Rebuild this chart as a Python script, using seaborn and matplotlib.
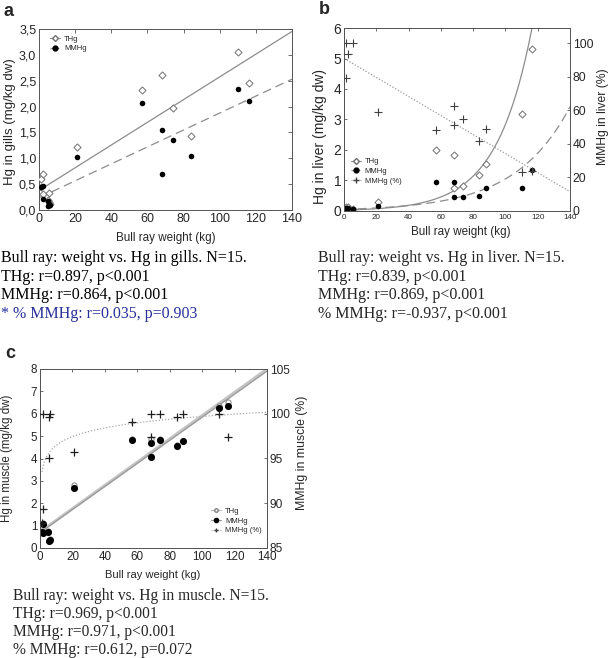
import numpy as np
import seaborn as sns
import matplotlib.pyplot as plt
from matplotlib.lines import Line2D

# ---------------- data ----------------
# (a) gills
gill_thg_kg = [0.9, 1.3, 2.0, 2.4, 5.0, 5.4, 5.5, 6.0, 21, 57, 68, 74, 84, 110, 116]
gill_thg = [0.45, 0.59, 0.31, 0.69, 0.20, 0.32, 0.15, 0.12, 1.22, 2.33, 2.62, 1.97, 1.44, 3.06, 2.46]
gill_mmhg_kg = [0.9, 2.0, 2.0, 5.0, 5.5, 6.0, 5.0, 21, 57, 68, 68, 74, 84, 110, 116]
gill_mmhg = [0.44, 0.47, 0.22, 0.18, 0.12, 0.10, 0.07, 1.03, 2.06, 1.55, 0.70, 1.35, 1.04, 2.34, 2.11]
gill_ytick_labels = ["0,0", "0,5", "1,0", "1,5", "2,0", "2,5", "3,0", "3,5"]

# (b) liver
liver_kg = [1.2, 2.7, 5.8, 21.3, 57, 68.2, 68.2, 73.9, 83.9, 88, 110.1, 116.3]
liver_thg = [0.12, 0.13, 0.07, 0.31, 2.00, 1.85, 0.75, 0.82, 1.17, 1.55, 3.18, 5.30]
liver_mmhg = [0.10, 0.11, 0.05, 0.17, 0.95, 0.94, 0.46, 0.46, 0.50, 0.75, 0.75, 1.33]
liver_pct_kg = [1.2, 5.8, 2.7, 1.2, 21.3, 57, 68.2, 68.2, 73.9, 83.9, 88, 110.1, 116.3]
liver_pct = [100, 100, 93.4, 79.3, 59.0, 48.5, 62.6, 51.1, 55.0, 41.9, 48.9, 23.1, 24.0]
# exponential fits y = a * exp(b * kg) as drawn in the original
liver_thg_fit = [0.030, 0.0455]
liver_mmhg_fit = [0.055, 0.0295]

# (c) muscle
muscle_kg = [1.2, 1.6, 2.0, 5.1, 5.8, 6.2, 21.2, 56.9, 68.3, 68.3, 74.0, 84.3, 88.0, 110.4, 116.2]
muscle_thg = [0.75, 0.70, 1.12, 0.75, 0.33, 0.40, 2.80, 4.87, 4.85, 4.12, 4.87, 4.62, 4.80, 6.35, 6.52]
muscle_mmhg = [0.70, 0.65, 1.07, 0.70, 0.30, 0.36, 2.67, 4.83, 4.71, 4.08, 4.83, 4.57, 4.77, 6.27, 6.36]
muscle_pct_kg = [1.0, 1.6, 1.6, 5.7, 5.7, 6.2, 21.0, 56.9, 68.3, 68.3, 74.0, 84.3, 88.0, 110.4, 116.2]
muscle_pct = [87.8, 89.4, 100, 95.0, 99.6, 100, 95.7, 99.1, 100, 97.4, 100, 99.6, 100, 100, 97.4]

captions_a = ["Bull ray: weight vs. Hg in gills. N=15.", "THg: r=0.897, p<0.001",
              "MMHg: r=0.864, p<0.001", "* % MMHg: r=0.035, p=0.903"]
captions_b = ["Bull ray: weight vs. Hg in liver. N=15.", "THg: r=0.839, p<0.001",
              "MMHg: r=0.869, p<0.001", "% MMHg: r=-0.937, p<0.001"]
captions_c = ["Bull ray: weight vs. Hg in muscle. N=15.", "THg: r=0.969, p<0.001",
              "MMHg: r=0.971, p<0.001", "% MMHg: r=0.612, p=0.072"]

# ---------------- figure ----------------
sns.set_style("white")
plt.rcParams["font.family"] = ["Liberation Sans", "DejaVu Sans"]

W, H = 610, 658
fig = plt.figure(figsize=(6.1, 6.58), dpi=100)


def box(l, t, r, b):
    return [l / W, 1 - b / H, (r - l) / W, (b - t) / H]


def ftext(x, y, s, **kw):
    fig.text(x / W, 1 - y / H, s, **kw)


def frame(ax):
    for sp in ax.spines.values():
        sp.set_linewidth(0.7)
        sp.set_color("#555555")


GRAY = "#8c8c8c"
serif = ["Liberation Serif", "DejaVu Serif"]
xticks = list(range(0, 141, 20))

# ---------- panel a ----------
ax_a = fig.add_axes(box(39, 29, 292, 210))
ax_a.set_xlim(0, 140)
ax_a.set_ylim(0, 3.5)
sns.regplot(x=np.array(gill_thg_kg), y=np.array(gill_thg), ax=ax_a, scatter=False,
            ci=None, truncate=False, line_kws=dict(color=GRAY, lw=0.9))
sns.regplot(x=np.array(gill_mmhg_kg), y=np.array(gill_mmhg), ax=ax_a, scatter=False,
            ci=None, truncate=False, line_kws=dict(color=GRAY, lw=0.9, ls=(0, (7, 4))))
sns.scatterplot(x=gill_thg_kg, y=gill_thg, ax=ax_a, marker="D", s=13,
                color="white", edgecolor="#707070", linewidth=0.7, zorder=3)
sns.scatterplot(x=gill_mmhg_kg, y=gill_mmhg, ax=ax_a, marker="o", s=16,
                color="black", edgecolor="black", linewidth=0, zorder=4)
ax_a.set_xticks(xticks)
ax_a.set_yticks(np.arange(0, 3.51, 0.5))
ax_a.set_yticklabels(gill_ytick_labels)
ax_a.tick_params(direction="in", top=True, right=True, length=3, width=0.6,
                 labelsize=9, pad=2, color="#555555")
ax_a.set_xlabel("")
ax_a.set_ylabel("")
frame(ax_a)
h_a = [Line2D([], [], color=GRAY, lw=0.8, marker="D", ms=3, mfc="white", mec="#707070"),
       Line2D([], [], color=GRAY, lw=0.8, ls=(0, (3, 2)), marker="o", ms=3.5, mfc="black", mec="black")]
ax_a.legend(h_a, ["THg", "MMHg"], loc="upper left", bbox_to_anchor=(0.045, 0.965),
            frameon=False, fontsize=5.5, handlelength=1.3, handletextpad=0.5,
            labelspacing=0.3, borderpad=0, borderaxespad=0)

ftext(8, 11, "a", fontsize=13, fontweight="bold", ha="center", va="center")
ftext(10, 122, "Hg in gills (mg/kg dw)", fontsize=9.5, rotation=90, ha="center", va="center")
ftext(166, 238, "Bull ray weight (kg)", fontsize=8.4, ha="center", va="center")

# ---------- panel b ----------
ax_b = fig.add_axes(box(344, 28, 570, 211))
ax_b.set_xlim(0, 140)
ax_b.set_ylim(0, 6)
ax_b2 = ax_b.twinx()
ax_b2.set_ylim(0, 600 / 5.5)

grid_b = np.linspace(0, 140, 300)
sns.lineplot(x=grid_b, y=liver_thg_fit[0] * np.exp(liver_thg_fit[1] * grid_b), ax=ax_b,
             color=GRAY, lw=0.9)
sns.lineplot(x=grid_b, y=liver_mmhg_fit[0] * np.exp(liver_mmhg_fit[1] * grid_b), ax=ax_b,
             color=GRAY, lw=0.9, ls=(0, (7, 4)))
sns.regplot(x=np.array(liver_pct_kg), y=np.array(liver_pct), ax=ax_b2, scatter=False,
            ci=None, truncate=False, line_kws=dict(color="#9a9a9a", lw=0.9, ls=(0, (1, 1.5))))
sns.scatterplot(x=liver_kg, y=liver_thg, ax=ax_b, marker="D", s=13,
                color="white", edgecolor="#707070", linewidth=0.7, zorder=3)
sns.scatterplot(x=liver_kg, y=liver_mmhg, ax=ax_b, marker="o", s=16,
                color="black", edgecolor="black", linewidth=0, zorder=4)
sns.scatterplot(x=liver_pct_kg, y=liver_pct, ax=ax_b2, marker="+", s=30,
                color="#404040", linewidth=0.8, zorder=4)
ax_b.set_xlim(0, 140)
ax_b.set_ylim(0, 6)
ax_b.set_xticks(xticks)
ax_b.set_yticks(range(0, 7))
ax_b2.set_yticks(range(0, 101, 20))
ax_b.tick_params(direction="in", top=True, length=2.5, width=0.6, pad=2, color="#555555")
ax_b.tick_params(axis="x", labelsize=5.8)
ax_b.tick_params(axis="y", labelsize=10)
ax_b2.tick_params(direction="in", length=2.5, width=0.6, labelsize=8.7, pad=2, color="#555555")
for a in (ax_b, ax_b2):
    a.set_xlabel("")
    a.set_ylabel("")
    frame(a)
h_b = [Line2D([], [], color=GRAY, lw=0.8, marker="D", ms=3, mfc="white", mec="#707070"),
       Line2D([], [], color=GRAY, lw=0.8, ls=(0, (3, 2)), marker="o", ms=3.5, mfc="black", mec="black"),
       Line2D([], [], color="#9a9a9a", lw=0.8, ls=(0, (1, 1)), marker="+", ms=4, mec="#404040")]
ax_b2.legend(h_b, ["THg", "MMHg", "MMHg (%)"], loc="upper left", bbox_to_anchor=(0.03, 0.29),
             frameon=False, fontsize=5.5, handlelength=1.3, handletextpad=0.5,
             labelspacing=0.3, borderpad=0, borderaxespad=0)

ftext(324, 9, "b", fontsize=13, fontweight="bold", ha="center", va="center")
ftext(320, 137, "Hg in liver (mg/kg dw)", fontsize=10, rotation=90, ha="center", va="center")
ftext(603, 117, "MMHg in liver (%)", fontsize=8.7, rotation=90, ha="center", va="center")
ftext(461, 232, "Bull ray weight (kg)", fontsize=8.4, ha="center", va="center")

# ---------- panel c ----------
ax_c = fig.add_axes(box(40, 369, 267, 548))
ax_c.set_ylim(0, 8)
ax_c2 = ax_c.twinx()
ax_c2.set_ylim(85, 105)

# log fit drawn from the smallest fish, linear fits across the whole axis
ax_c.set_xlim(min(muscle_pct_kg) + 0.2, 140)
sns.regplot(x=np.array(muscle_pct_kg), y=np.array(muscle_pct), ax=ax_c2, scatter=False,
            ci=None, truncate=False, logx=True,
            line_kws=dict(color="#a8a8a8", lw=0.9, ls=(0, (1, 1.5))))
ax_c.set_xlim(0, 140)
sns.regplot(x=np.array(muscle_kg), y=np.array(muscle_thg), ax=ax_c, scatter=False,
            ci=None, truncate=False, line_kws=dict(color="#c4c4c4", lw=1.8))
sns.regplot(x=np.array(muscle_kg), y=np.array(muscle_mmhg), ax=ax_c, scatter=False,
            ci=None, truncate=False, line_kws=dict(color="#9a9a9a", lw=1.0))
sns.scatterplot(x=muscle_kg, y=muscle_thg, ax=ax_c, marker="o", s=14,
                color="white", edgecolor="#808080", linewidth=0.7, zorder=3)
sns.scatterplot(x=muscle_kg, y=muscle_mmhg, ax=ax_c, marker="o", s=26,
                color="black", edgecolor="black", linewidth=0, zorder=4)
sns.scatterplot(x=muscle_pct_kg, y=muscle_pct, ax=ax_c2, marker="+", s=34,
                color="#202020", linewidth=0.9, zorder=4)
ax_c.set_xticks(xticks)
ax_c.set_yticks(range(0, 9))
ax_c2.set_yticks(range(85, 106, 5))
ax_c.tick_params(direction="in", top=True, length=2.5, width=0.6, labelsize=8.4,
                 pad=2, color="#555555")
ax_c2.tick_params(direction="in", length=2.5, width=0.6, labelsize=8.6, pad=2, color="#555555")
for a in (ax_c, ax_c2):
    a.set_xlabel("")
    a.set_ylabel("")
    frame(a)
h_c = [Line2D([], [], color="#b8b8b8", lw=0.8, marker="o", ms=2.5, mfc="white", mec="#808080"),
       Line2D([], [], color="#9a9a9a", lw=0.8, marker="o", ms=3, mfc="black", mec="black"),
       Line2D([], [], color="#a8a8a8", lw=0.8, ls=(0, (1, 1)), marker="+", ms=3.5, mec="#404040")]
ax_c2.legend(h_c, ["THg", "MMHg", "MMHg (%)"], loc="upper left", bbox_to_anchor=(0.755, 0.225),
             frameon=False, fontsize=5.5, handlelength=1.3, handletextpad=0.5,
             labelspacing=0.3, borderpad=0, borderaxespad=0)

ftext(10, 353, "c", fontsize=13, fontweight="bold", ha="center", va="center")
ftext(7, 458, "Hg in muscle (mg/kg dw)", fontsize=8.3, rotation=90, ha="center", va="center")
ftext(302, 453, "MMHg in muscle (%)", fontsize=8.8, rotation=90, ha="center", va="center")
ftext(153, 575, "Bull ray weight (kg)", fontsize=8, ha="center", va="center")

# ---------- captions ----------
for i, s in enumerate(captions_a):
    ftext(1, 258 + 18.7 * i, s, fontsize=11.5, family=serif, va="center",
          color="#28309a" if s.startswith("*") else "black")
for i, s in enumerate(captions_b):
    ftext(318, 258 + 18.7 * i, s, fontsize=11.5, family=serif, va="center")
for i, s in enumerate(captions_c):
    ftext(13, 596 + 18.0 * i, s, fontsize=11.2, family=serif, va="center")

fig.savefig("out.png", dpi=100)
plt.close(fig)
